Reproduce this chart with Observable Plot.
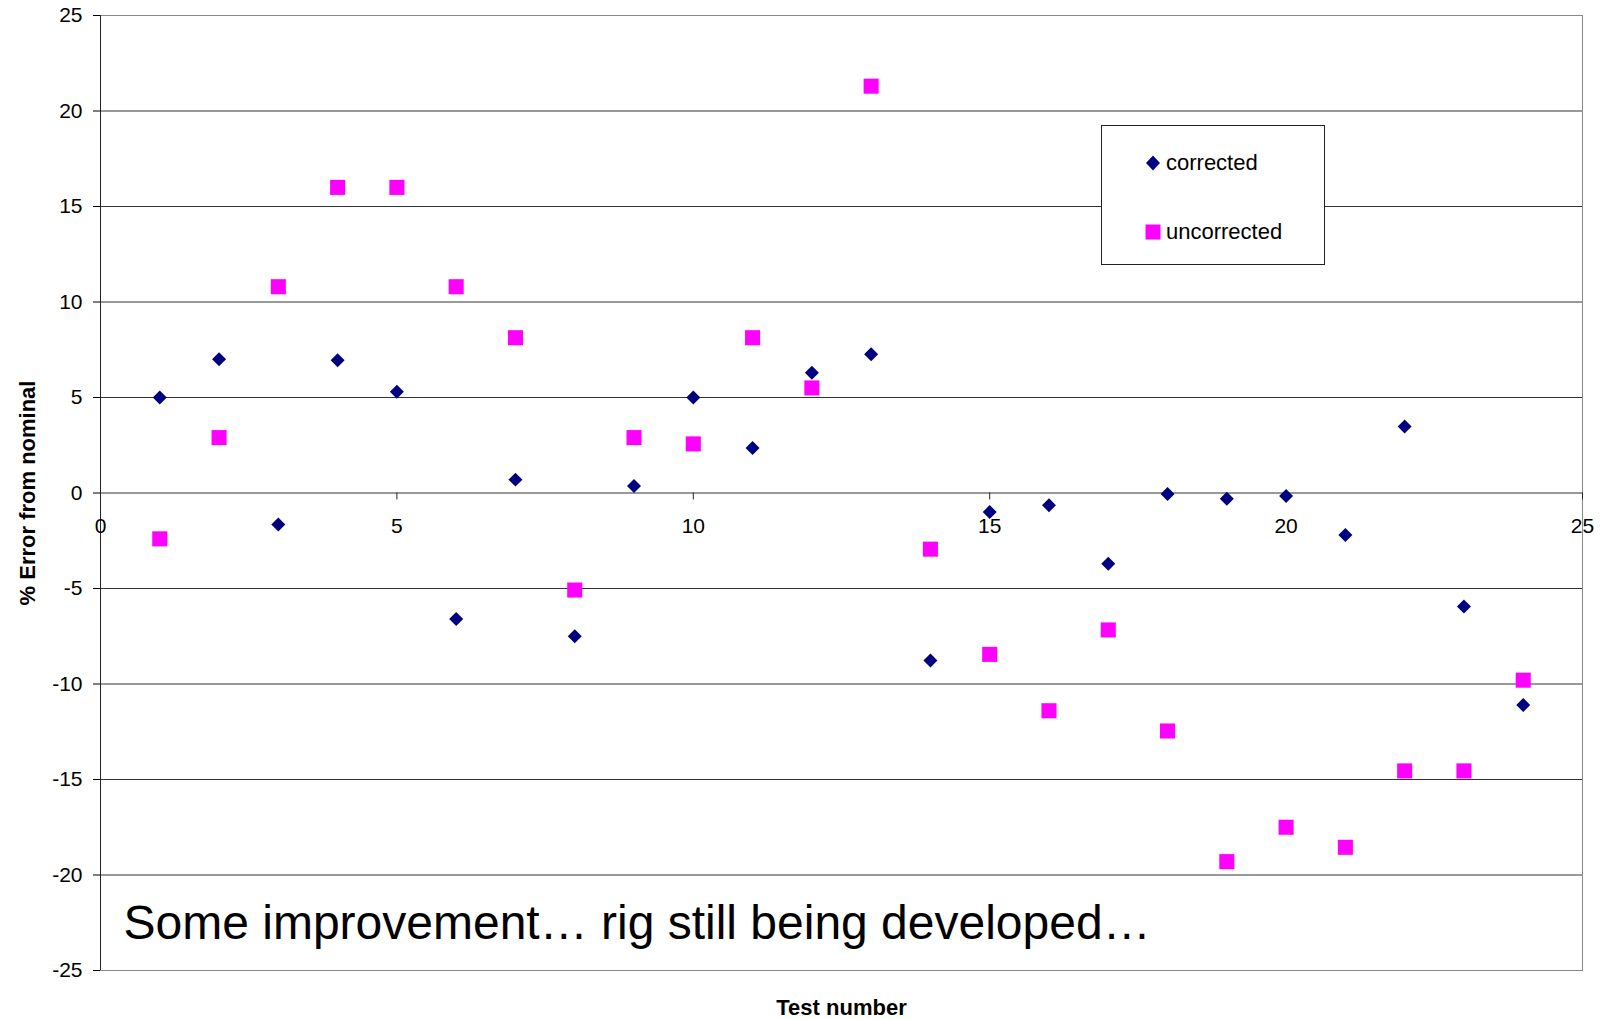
<!DOCTYPE html>
<html>
<head>
<meta charset="utf-8">
<script src="https://cdn.jsdelivr.net/npm/d3@7"></script>
<script src="https://cdn.jsdelivr.net/npm/@observablehq/plot@0.6"></script>
<style>
  html, body { margin: 0; padding: 0; background: #fff; }
  #wrap { position: relative; width: 1601px; height: 1019px; font-family: Arial, "Liberation Sans", sans-serif; }
  #legend { position: absolute; left: 1101px; top: 125px; width: 224px; height: 140px; border: 1px solid #222; background: #fff; box-sizing: border-box; }
  .item { position: absolute; left: 43px; display: flex; align-items: center; font-size: 22px; color: #000; }
  .item svg { margin-right: 5px; }
</style>
</head>
<body>
<div id="wrap"></div>
<script>
const tests = d3.range(1, 25);
const corrected = [5.0, 7.0, -1.65, 6.95, 5.3, -6.6, 0.7, -7.5, 0.37, 5.0, 2.35, 6.3, 7.27, -8.77, -1.0, -0.64, -3.7, -0.05, -0.3, -0.16, -2.2, 3.48, -5.94, -11.1];
const uncorrected = [-2.4, 2.9, 10.8, 16.0, 16.0, 10.8, 8.13, -5.08, 2.9, 2.57, 8.13, 5.5, 21.3, -2.94, -8.45, -11.4, -7.17, -12.46, -19.3, -17.5, -18.55, -14.55, -14.55, -9.8];
const xTicks = [0, 5, 10, 15, 20, 25];
const yTicks = [-25, -20, -15, -10, -5, 0, 5, 10, 15, 20, 25];
const seriesNames = ["corrected", "uncorrected"];
const seriesColors = ["#000080", "#FF00FF"];
const yLabel = "% Error from nominal";
const xLabel = "Test number";
const note = "Some improvement\u2026 rig still being developed\u2026";

const rows = [
  ...tests.map((t, i) => ({test: t, value: uncorrected[i], series: seriesNames[1]})),
  ...tests.map((t, i) => ({test: t, value: corrected[i], series: seriesNames[0]}))
];

const chart = Plot.plot({
  width: 1601,
  height: 1019,
  marginLeft: 100,
  marginRight: 19,
  marginTop: 15,
  marginBottom: 49,
  x: {domain: [0, 25], axis: null},
  y: {domain: [-25, 25], axis: null},
  style: {fontFamily: "Arial, 'Liberation Sans', sans-serif", fontSize: "21px", color: "#000", background: "#fff"},
  marks: [
    Plot.gridY(yTicks, {stroke: "#333", strokeOpacity: 1, strokeWidth: 1}),
    Plot.frame({stroke: "#888"}),
    Plot.ruleX([0], {stroke: "#222"}),
    Plot.axisY(yTicks, {tickSize: 7, tickPadding: 11, label: null, fontSize: 21, tickFormat: d => String(d)}),
    Plot.ruleX(xTicks, {x: d => d, y1: () => 0, y2: () => 0, insetBottom: -7, stroke: "#222"}),
    Plot.text(xTicks, {x: d => d, y: () => 0, text: d => String(d), dy: 33, fontSize: 21}),
    Plot.text([yLabel], {frameAnchor: "left", rotate: -90, dx: -73, textAnchor: "middle", fontWeight: "bold", fontSize: 22}),
    Plot.text([xLabel], {frameAnchor: "bottom", dy: 44, textAnchor: "middle", fontWeight: "bold", fontSize: 22}),
    Plot.dot(rows.filter(d => d.series === "uncorrected"), {x: "test", y: "value", symbol: "square", r: 8.5, fill: seriesColors[1], stroke: "none"}),
    Plot.dot(rows.filter(d => d.series === "corrected"), {x: "test", y: "value", symbol: "diamond2", r: 6.3, fill: seriesColors[0], stroke: "none"}),
    Plot.text([note], {frameAnchor: "bottom-left", dx: 23, dy: -32, textAnchor: "start", lineAnchor: "bottom", fontSize: 48})
  ]
});

const wrap = document.getElementById("wrap");
wrap.appendChild(chart);

const legend = document.createElement("div");
legend.id = "legend";
const tops = [24, 93];
seriesNames.forEach((name, i) => {
  const item = document.createElement("div");
  item.className = "item";
  item.style.top = tops[i] + "px";
  const shape = i === 0
    ? `<svg width="16" height="26"><path d="M8,5.5 L15,13 L8,20.5 L1,13 Z" fill="${seriesColors[i]}"/></svg>`
    : `<svg width="16" height="26"><rect x="0.5" y="5.5" width="15" height="15" fill="${seriesColors[i]}"/></svg>`;
  item.innerHTML = shape + `<span>${name}</span>`;
  legend.appendChild(item);
});
wrap.appendChild(legend);
</script>
</body>
</html>
